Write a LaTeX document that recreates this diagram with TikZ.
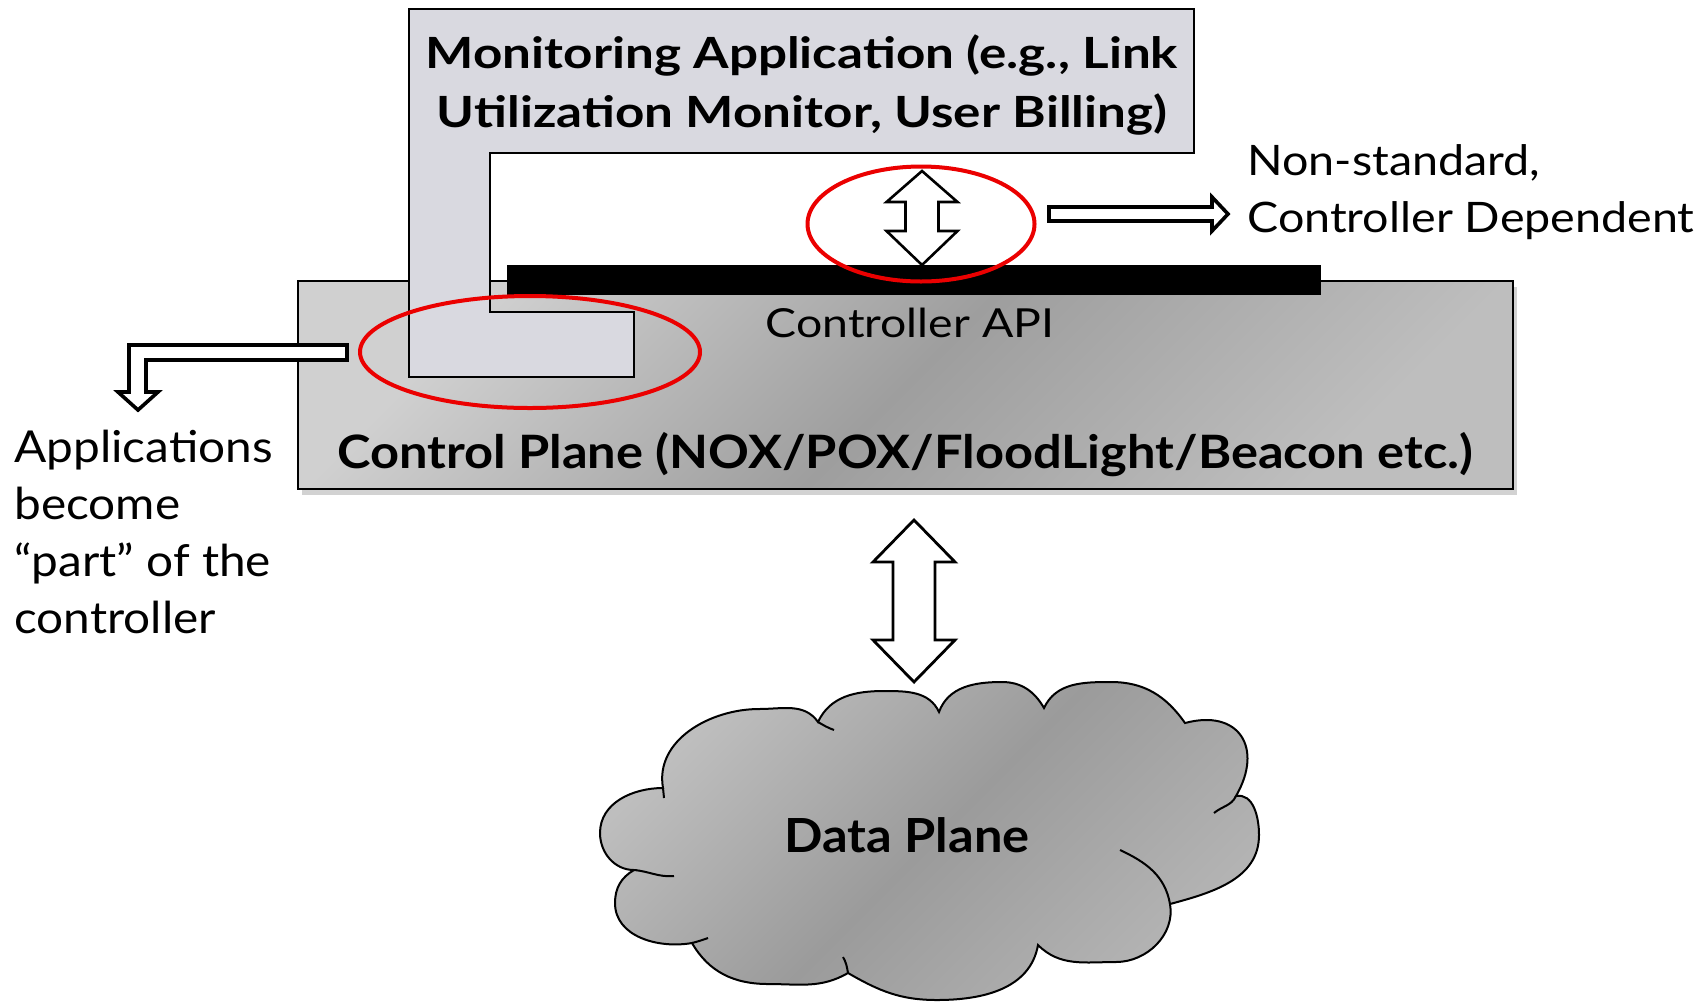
\documentclass[tikz,border=0pt]{standalone}
\usepackage{fontspec}
\setmainfont{Lato}
\newfontfamily\monfont[FakeStretch=1.19]{Lato}
\newfontfamily\apifont[FakeStretch=1.16]{Lato}
\newfontfamily\cpfont[FakeStretch=1.10]{Lato}
\newfontfamily\nsfont[FakeStretch=1.11]{Lato}
\newfontfamily\appsfont[FakeStretch=1.085]{Lato}
\newfontfamily\dpfont[FakeStretch=1.077]{Lato}
\usetikzlibrary{shadows,shapes.geometric}
\definecolor{appfill}{RGB}{217,217,224}
\definecolor{cpA}{RGB}{208,208,208}
\definecolor{cpM}{RGB}{158,158,158}
\definecolor{cpB}{RGB}{190,190,190}
\definecolor{clA}{RGB}{190,190,190}
\definecolor{clM}{RGB}{155,155,155}
\definecolor{clB}{RGB}{180,180,180}
\definecolor{redring}{RGB}{235,0,0}
\begin{document}
\begin{tikzpicture}[x=0.5pt,y=-0.5pt,
  lbl/.style={inner sep=0pt, text=black},
  ring/.style={ellipse, draw=redring, line width=2pt, inner sep=0pt},
  blockarrow/.style={draw=black, fill=white, line width=1.4pt, line join=miter},
  cloudline/.style={draw=black, line width=1pt}]
\useasboundingbox (0,0) rectangle (1706,1002);
\fill[white] (0,0) rectangle (1706,1002);

% control plane box
\node[draw=black, line width=1.3pt, minimum width=607.5pt, minimum height=104pt,
      top color=cpA, bottom color=cpB, middle color=cpM, shading angle=45,
      drop shadow={shadow xshift=2pt, shadow yshift=-3pt, opacity=0.35}]
      (cp) at (905.5,385) {};

% monitoring application L-shape
\draw[draw=black, line width=1.3pt, fill=appfill]
  (409,9) -- (1194,9) -- (1194,153) -- (490,153) -- (490,312) -- (634,312)
  -- (634,377) -- (409,377) -- cycle;

% controller API bar
\node[fill=black, inner sep=0pt, minimum width=407pt, minimum height=15pt] (bar) at (914,280) {};

% texts
\node[lbl, font=\monfont\bfseries\fontsize{21.5}{29.5}\selectfont, align=center, anchor=base] (mon) at (802,127)
  {Monitoring Application (e.g., Link\\Utilization Monitor, User Billing)};
\node[lbl, font=\apifont\fontsize{20}{24}\selectfont, anchor=base] (api) at (910,337) {Controller API};
\node[lbl, font=\cpfont\bfseries\fontsize{23}{28}\selectfont, anchor=base] (cpt) at (905,468)
  {Control Plane (NOX/POX/FloodLight/Beacon etc.)};

% red rings
\node[ring, minimum width=113.5pt, minimum height=57.5pt] (e1) at (921,224) {};
\node[ring, minimum width=170pt, minimum height=56pt] (e2) at (530,352) {};

% small double arrow (app <-> controller API)
\draw[blockarrow, line width=1.3pt] (922,171) -- (957.5,202) -- (938.5,202) -- (938.5,231) -- (957.5,231)
  -- (922,265) -- (886.5,231) -- (905.5,231) -- (905.5,202) -- (886.5,202) -- cycle;

% right arrow to annotation
\draw[blockarrow, line width=1.8pt] (1049,207) -- (1212,207) -- (1212,197) -- (1228,214)
  -- (1212,231) -- (1212,221) -- (1049,221) -- cycle;
\node[lbl, font=\nsfont\fontsize{21}{28.5}\selectfont, align=left, anchor=base west] (ns) at (1247,232)
  {Non-standard,\\Controller Dependent};

% bent arrow to left annotation
\draw[blockarrow, line width=1.8pt] (347,345) -- (129,345) -- (129,392) -- (118,392) -- (138,410)
  -- (158,392) -- (146,392) -- (146,360) -- (347,360) -- cycle;
\node[lbl, font=\appsfont\fontsize{22}{28.5}\selectfont, align=left, anchor=base west] (apps) at (14,633)
  {Applications\\become\\“part” of the\\controller};

% big double arrow (control plane <-> data plane)
\draw[blockarrow] (914,520) -- (955,562) -- (935,562) -- (935,640) -- (955,640) -- (914,682)
  -- (873,640) -- (893,640) -- (893,562) -- (873,562) -- cycle;

% cloud
\draw[draw=black, line width=1pt, top color=clA, bottom color=clB, middle color=clM, shading angle=45]
  (663,788) to[out=100,in=180] (759,709) to[out=0,in=125] (818,722)
  to[out=65,in=180] (884,691) to[out=0,in=115] (939,712)
  to[out=70,in=180] (1002,682) to[out=0,in=120] (1044,708)
  to[out=65,in=180] (1111,682) to[out=0,in=125] (1185,723)
  to[out=15,in=60,looseness=1.6] (1236,796)
  to[out=10,in=90] (1259,835) to[out=-90,in=15] (1170,904)
  to[out=-80,in=0] (1116,962) to[out=180,in=-45] (1038,945)
  to[out=-100,in=0] (937,1000) to[out=180,in=-30] (848,973)
  to[out=-150,in=0] (768,984) to[out=180,in=-60] (692,943)
  to[out=190,in=-90] (615,903) to[out=90,in=-150] (634,870)
  to[out=180,in=-90] (600,833) to[out=90,in=180] (663,788) -- cycle;
\draw[cloudline] (634,870) to[out=-5,in=185] (674,876);
\draw[cloudline] (692,943) to[out=15,in=200] (708,938);
\draw[cloudline] (848,973) to[out=100,in=-60] (843,957);
\draw[cloudline] (1170,904) to[out=100,in=-25] (1120,850);
\draw[cloudline] (1236,796) to[out=-115,in=40] (1214,813);
\draw[cloudline] (818,722) to[out=-30,in=160] (834,730);
\draw[cloudline] (663,788) -- (664,798);
\node[lbl, font=\dpfont\bfseries\fontsize{23.5}{28}\selectfont, anchor=base] (dp) at (907,852) {Data Plane};
\end{tikzpicture}
\end{document}
